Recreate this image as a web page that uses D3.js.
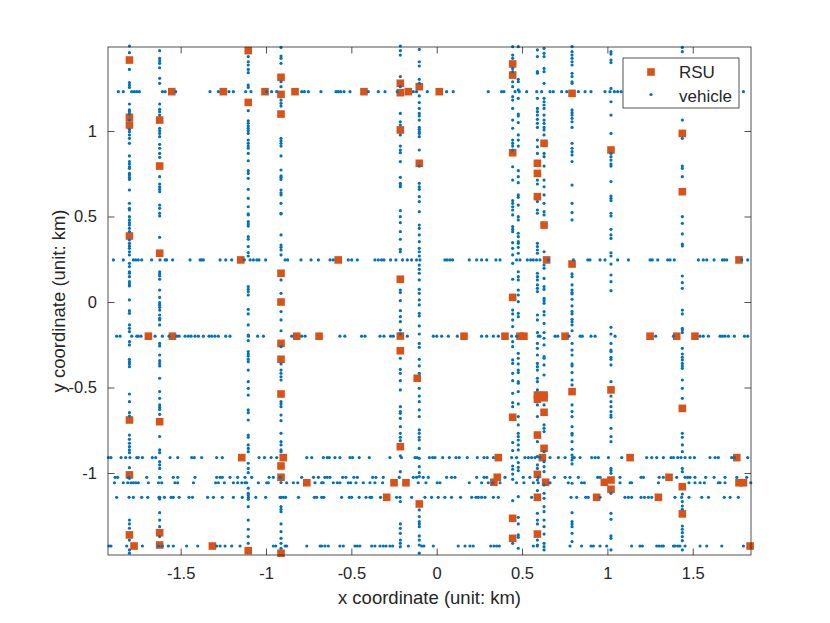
<!DOCTYPE html>
<html>
<head>
<meta charset="utf-8">
<script src="https://cdn.jsdelivr.net/npm/d3@7"></script>
<style>
  body { margin: 0; background: #fff; }
  text { font-family: "Liberation Sans", Arial, Helvetica, sans-serif; fill: #262626; }
</style>
</head>
<body>
<div id="chart"></div>
<script>
// RSU positions (km)
var rsuX = [-1.80, -1.80, -1.80, -1.80, -1.80, -1.80, -1.80, -1.773,
  -1.623, -1.623, -1.623, -1.623, -1.623, -1.623,
  -1.552, -1.250, -1.006, -0.830, -0.426, -0.166, 0.015,
  -1.104, -1.104, -1.104, -1.148,
  -0.912, -0.912, -0.912, -0.912, -0.912, -0.912, -0.912, -0.912, -0.899, -0.912, -0.912, -0.912,
  -1.689, -1.548, -0.820, -0.689, 0.160, 0.400, 0.488, 0.511, 0.752, 1.250, 1.406, 1.513,
  -0.577, 1.771,
  -0.213, -0.213, -0.213, -0.213, -0.213, -0.213, -0.213,
  -0.102, -0.102, -0.114, -0.102,
  -1.142, 0.361, 1.133, 1.758, 0.619,
  0.355, 1.361,
  0.335, -0.761, -0.250, -0.180, 1.771, 1.797, 0.982, 0.638,
  -0.293, 0.937, 1.299,
  -1.314, 1.836,
  0.445, 0.445, 0.445, 0.445, 0.445, 0.445, 0.445,
  0.590, 0.590, 0.590, 0.590, 0.590, 0.590, 0.590, 0.590, 0.590,
  0.629, 0.629, 0.644, 0.629, 0.629, 0.629, 0.629,
  0.793, 0.793, 0.793,
  1.021, 1.021, 1.021, 1.021,
  1.439, 1.439, 1.439, 1.439, 1.439];
var rsuY = [1.415, 1.080, 1.035, 0.386, -0.690, -1.011, -1.362, -1.427,
  1.064, 0.795, 0.285, -0.700, -1.349, -1.421,
  1.230, 1.230, 1.230, 1.230, 1.230, 1.230, 1.230,
  1.470, 1.167, -1.454, 0.246,
  1.314, 1.214, 1.099, 0.168, 0.000, -0.242, -0.335, -0.538, -0.910, -0.959, -1.025, -1.469,
  -0.200, -0.200, -0.200, -0.200, -0.200, -0.200, -0.200, -0.200, -0.200, -0.200, -0.200, -0.200,
  0.246, 0.246,
  1.279, 1.224, 1.006, 0.133, -0.199, -0.285, -0.846,
  1.259, 0.811, -0.446, -1.181,
  -0.910, -0.910, -0.910, -0.910, -0.910,
  -1.025, -1.025,
  -1.054, -1.057, -1.057, -1.057, -1.057, -1.057, -1.054, -1.054,
  -1.142, -1.142, -1.142,
  -1.427, -1.427,
  1.392, 1.327, 0.873, 0.027, -0.674, -1.265, -1.382,
  0.811, 0.752, 0.616, -0.544, -0.569, -0.778, -1.008, -1.142, -1.357,
  0.928, 0.450, 0.246, -0.544, -0.560, -0.645, -0.856,
  1.220, 0.222, -0.524,
  0.889, -0.514, -1.041, -1.095,
  0.986, 0.645, -0.622, -1.080, -1.239];

// vertical roads: x position of each road, then vehicle y positions on it
var vRoadX = [-1.80, -1.623, -1.104, -0.912, -0.213, -0.102, 0.445, 0.478, 0.590, 0.629, 0.793, 1.021, 1.439];
var roadA = [1.497, 1.458, 1.360, 1.283, 1.269, 1.255, 1.158, 1.123, 1.113, 1.099, 1.064, 1.010, 0.996, 0.977, 0.957, 0.928, 0.854, 0.821, 0.807, 0.791, 0.782, 0.752, 0.743, 0.729, 0.717, 0.655, 0.577, 0.548, 0.538, 0.499, 0.480, 0.464, 0.450, 0.431, 0.411, 0.363, 0.343, 0.328, 0.314, 0.294, 0.275, 0.226, 0.207, 0.177, 0.168, 0.148, 0.119, 0.105, 0.094, 0.012, -0.051, -0.066, -0.134, -0.154, -0.173, -0.232, -0.251, -0.335, -0.349, -0.362, -0.378, -0.538, -0.583, -0.647, -0.667, -0.778, -0.803, -0.826, -0.846, -0.865, -0.881, -0.969, -1.031, -1.275, -1.298, -1.323, -1.392, -1.450, -1.469];
var roadB = [1.470, 1.425, 1.411, 1.396, 1.370, 1.308, 1.279, 1.158, 1.127, 1.113, 1.093, 1.016, 1.002, 0.986, 0.967, 0.922, 0.899, 0.869, 0.846, 0.733, 0.690, 0.674, 0.659, 0.645, 0.567, 0.548, 0.519, 0.503, 0.378, 0.177, 0.164, 0.152, 0.133, 0.070, 0.027, -0.004, -0.017, -0.031, -0.047, -0.076, -0.095, -0.105, -0.134, -0.242, -0.257, -0.310, -0.343, -0.359, -0.374, -0.446, -0.524, -0.563, -0.602, -0.616, -0.628, -0.657, -0.787, -0.865, -0.881, -0.934, -0.953, -0.973, -1.025, -1.142, -1.152, -1.232, -1.275, -1.314, -1.372];
var roadC = [1.435, 1.405, 1.386, 1.360, 1.341, 1.269, 1.255, 1.119, 1.060, 1.045, 1.029, 1.016, 1.002, 0.986, 0.947, 0.928, 0.912, 0.899, 0.869, 0.826, 0.768, 0.752, 0.723, 0.659, 0.606, 0.557, 0.515, 0.509, 0.470, 0.456, 0.444, 0.382, 0.367, 0.324, 0.289, 0.269, 0.090, 0.074, 0.060, 0.041, -0.043, -0.070, -0.134, -0.193, -0.226, -0.290, -0.304, -0.316, -0.335, -0.349, -0.398, -0.466, -0.505, -0.544, -0.631, -0.647, -0.690, -0.778, -0.791, -0.836, -0.856, -0.875, -0.943, -0.973, -0.998, -1.089, -1.119, -1.128, -1.154, -1.197, -1.275, -1.329, -1.372, -1.411];
var roadD = [1.489, 1.438, 1.425, 1.396, 1.288, 1.259, 1.181, 1.162, 1.146, 0.957, 0.943, 0.928, 0.912, 0.854, 0.772, 0.737, 0.729, 0.717, 0.655, 0.639, 0.626, 0.577, 0.519, 0.515, 0.392, 0.333, 0.320, 0.304, 0.275, 0.129, 0.051, -0.056, -0.105, -0.168, -0.261, -0.362, -0.398, -0.417, -0.437, -0.456, -0.583, -0.596, -0.612, -0.661, -0.694, -0.768, -0.817, -0.836, -0.865, -0.875, -1.056, -1.142, -1.197, -1.212, -1.226, -1.298, -1.343, -1.382, -1.411, -1.440];
var roadE = [1.497, 1.470, 1.444, 1.318, 1.259, 1.103, 1.054, 1.035, 0.977, 0.912, 0.889, 0.873, 0.821, 0.729, 0.694, 0.684, 0.674, 0.534, 0.499, 0.464, 0.411, 0.367, 0.308, 0.294, 0.070, 0.055, 0.008, -0.051, -0.086, -0.115, -0.164, -0.187, -0.329, -0.394, -0.417, -0.460, -0.514, -0.612, -0.641, -0.651, -0.680, -0.729, -0.768, -0.791, -0.811, -0.900, -0.992, -1.167, -1.298, -1.323, -1.353, -1.392, -1.411, -1.431];
var roadF = [1.477, 1.405, 1.380, 1.302, 1.279, 1.205, 1.166, 1.132, 1.103, 1.088, 1.064, 1.021, 1.010, 0.996, 0.986, 0.967, 0.889, 0.795, 0.694, 0.674, 0.659, 0.616, 0.587, 0.528, 0.450, 0.431, 0.392, 0.353, 0.314, 0.294, 0.269, 0.216, 0.191, 0.168, 0.129, 0.074, 0.051, 0.012, -0.017, -0.066, -0.082, -0.140, -0.187, -0.242, -0.265, -0.335, -0.374, -0.417, -0.505, -0.550, -0.583, -0.631, -0.670, -0.748, -0.768, -0.791, -0.807, -0.856, -0.914, -0.963, -0.998, -1.021, -1.216, -1.255, -1.284, -1.298, -1.314, -1.368, -1.392, -1.421, -1.469];
var roadG = [1.493, 1.444, 1.425, 1.366, 1.347, 1.288, 1.259, 1.201, 1.181, 1.132, 1.064, 1.016, 0.947, 0.928, 0.912, 0.889, 0.791, 0.713, 0.593, 0.577, 0.557, 0.538, 0.509, 0.441, 0.425, 0.411, 0.347, 0.314, 0.275, 0.226, 0.133, -0.047, -0.070, -0.105, -0.144, -0.232, -0.261, -0.339, -0.359, -0.417, -0.460, -0.534, -0.589, -0.612, -0.822, -0.869, -0.959, -0.978, -1.006, -1.037, -1.162, -1.411];
var roadH = [1.493, 1.302, 1.288, 1.240, 1.191, 1.099, 1.088, 1.049, 0.977, 0.947, 0.912, 0.768, 0.733, 0.698, 0.626, 0.612, 0.567, 0.499, 0.480, 0.402, 0.382, 0.353, 0.343, 0.320, 0.285, 0.177, 0.148, 0.129, 0.070, 0.041, 0.002, -0.066, -0.086, -0.300, -0.329, -0.362, -0.398, -0.413, -0.466, -0.475, -0.524, -0.596, -0.670, -0.719, -0.768, -0.787, -0.807, -0.836, -0.865, -0.939, -0.967, -0.986, -1.138, -1.259, -1.298, -1.362, -1.376, -1.440];
var roadI = [1.474, 1.435, 1.347, 1.338, 1.191, 1.132, 1.113, 1.093, 1.068, 1.045, 1.021, 0.947, 0.908, 0.869, 0.713, 0.690, 0.587, 0.538, 0.519, 0.343, 0.324, 0.304, 0.285, 0.168, 0.148, 0.129, 0.100, 0.080, 0.061, -0.076, -0.105, -0.179, -0.242, -0.271, -0.310, -0.359, -0.378, -0.398, -0.446, -0.466, -0.514, -0.602, -0.670, -0.817, -0.904, -0.953, -0.973, -1.041, -1.103, -1.236, -1.275, -1.298, -1.392, -1.421];
var roadJ = [1.483, 1.454, 1.435, 1.366, 1.347, 1.279, 1.191, 1.171, 1.152, 1.132, 1.093, 1.064, 1.045, 1.021, 1.006, 0.977, 0.869, 0.850, 0.795, 0.713, 0.674, 0.626, 0.577, 0.528, 0.509, 0.294, 0.216, 0.197, 0.138, 0.090, 0.074, 0.021, 0.008, -0.008, -0.056, -0.076, -0.125, -0.179, -0.212, -0.251, -0.320, -0.329, -0.368, -0.427, -0.602, -0.719, -0.739, -0.758, -0.875, -0.934, -0.963, -0.992, -1.070, -1.119, -1.148, -1.197, -1.226, -1.275, -1.314, -1.357, -1.411, -1.431, -1.450];
var roadK = [1.493, 1.464, 1.444, 1.425, 1.405, 1.386, 1.337, 1.318, 1.288, 1.279, 1.123, 1.107, 1.093, 1.074, 1.054, 1.021, 0.928, 0.899, 0.879, 0.860, 0.821, 0.684, 0.577, 0.523, 0.480, 0.164, 0.148, 0.100, 0.070, 0.055, 0.047, 0.016, -0.023, -0.056, -0.070, -0.101, -0.115, -0.134, -0.168, -0.242, -0.281, -0.310, -0.362, -0.374, -0.413, -0.456, -0.485, -0.602, -0.641, -0.670, -0.729, -0.768, -0.778, -0.817, -0.861, -0.895, -0.924, -0.947, -1.060, -1.232, -1.284, -1.298, -1.314, -1.353, -1.401];
var roadL = [1.464, 1.450, 1.415, 1.400, 1.249, 1.171, 1.093, 0.986, 0.869, 0.850, 0.830, 0.807, 0.795, 0.704, 0.620, 0.606, 0.593, 0.519, 0.503, 0.425, 0.392, 0.372, 0.288, 0.269, 0.222, 0.158, 0.119, 0.066, -0.148, -0.187, -0.242, -0.281, -0.290, -0.323, -0.335, -0.368, -0.466, -0.550, -0.583, -0.612, -0.641, -0.661, -0.674, -0.739, -0.787, -0.817, -0.973, -0.986, -1.002, -1.119, -1.236, -1.271, -1.368, -1.382, -1.450];
var roadM = [1.489, 1.464, 1.064, 0.957, 0.795, 0.782, 0.733, 0.499, 0.460, 0.398, 0.339, 0.328, 0.152, 0.113, 0.080, -0.047, -0.070, -0.154, -0.164, -0.179, -0.271, -0.304, -0.323, -0.339, -0.359, -0.374, -0.388, -0.456, -0.505, -0.563, -0.768, -0.791, -0.836, -0.875, -0.973, -0.992, -1.123, -1.167, -1.193, -1.212, -1.310, -1.329, -1.349, -1.372, -1.396, -1.450];

// horizontal roads: y position of each road, then vehicle x positions on it
var hRoadY = [1.230, 0.246, -0.200, -0.910, -1.025, -1.057, -1.142, -1.427];
var road1 = [-1.865, -1.836, -1.787, -1.771, -1.757, -1.742, -1.607, -1.591, -1.529, -1.328, -1.279, -1.217, -1.191, -1.119, -1.088, -0.996, -0.967, -0.937, -0.791, -0.775, -0.752, -0.678, -0.590, -0.577, -0.563, -0.543, -0.508, -0.401, -0.342, -0.303, -0.231, -0.137, -0.118, -0.055, 0.058, 0.097, 0.302, 0.380, 0.394, 0.459, 0.484, 0.527, 0.586, 0.615, 0.664, 0.683, 0.732, 0.762, 0.830, 0.869, 0.904, 0.986, 1.015, 1.041, 1.060, 1.080, 1.797];
var road2 = [-1.894, -1.836, -1.777, -1.763, -1.748, -1.728, -1.670, -1.621, -1.591, -1.582, -1.547, -1.445, -1.386, -1.377, -1.367, -1.269, -1.236, -1.201, -1.127, -1.093, -1.074, -1.054, -1.041, -1.002, -0.888, -0.873, -0.795, -0.736, -0.693, -0.625, -0.606, -0.518, -0.498, -0.465, -0.362, -0.342, -0.323, -0.309, -0.270, -0.239, -0.200, -0.172, -0.147, -0.118, -0.098, 0.048, 0.062, 0.078, 0.093, 0.191, 0.234, 0.263, 0.293, 0.347, 0.371, 0.468, 0.488, 0.531, 0.550, 0.566, 0.585, 0.605, 0.654, 0.801, 0.885, 0.898, 0.957, 0.986, 1.060, 1.123, 1.250, 1.263, 1.295, 1.353, 1.367, 1.392, 1.533, 1.562, 1.582, 1.625, 1.674, 1.685, 1.699, 1.787, 1.822];
var road3 = [-1.875, -1.855, -1.787, -1.757, -1.748, -1.732, -1.650, -1.607, -1.568, -1.523, -1.509, -1.474, -1.455, -1.439, -1.416, -1.396, -1.367, -1.334, -1.318, -1.299, -1.279, -1.236, -1.211, -1.103, -1.049, -1.015, -0.849, -0.791, -0.771, -0.567, -0.538, -0.440, -0.420, -0.332, -0.309, -0.270, -0.254, -0.172, -0.020, 0.000, 0.029, 0.068, 0.121, 0.263, 0.293, 0.332, 0.361, 0.439, 0.468, 0.595, 0.605, 0.693, 0.709, 0.775, 0.840, 0.853, 0.904, 0.928, 1.045, 1.283, 1.387, 1.543, 1.562, 1.592, 1.660, 1.674, 1.689, 1.709, 1.744, 1.803, 1.822];
var road4 = [-1.923, -1.908, -1.849, -1.822, -1.797, -1.757, -1.748, -1.724, -1.666, -1.646, -1.562, -1.517, -1.435, -1.420, -1.377, -1.289, -1.256, -1.041, -1.009, -0.970, -0.937, -0.761, -0.732, -0.664, -0.641, -0.629, -0.596, -0.567, -0.508, -0.493, -0.454, -0.395, -0.274, -0.206, -0.127, -0.114, -0.043, -0.024, -0.010, 0.035, 0.074, 0.113, 0.132, 0.179, 0.238, 0.277, 0.296, 0.332, 0.439, 0.468, 0.517, 0.537, 0.556, 0.576, 0.605, 0.664, 0.713, 0.752, 0.795, 0.806, 0.840, 0.908, 0.928, 0.947, 1.006, 1.084, 1.230, 1.260, 1.289, 1.328, 1.373, 1.387, 1.412, 1.431, 1.455, 1.484, 1.510, 1.601, 1.631, 1.650, 1.728, 1.744, 1.822];
var road5 = [-1.884, -1.869, -1.806, -1.699, -1.621, -1.543, -1.517, -1.416, -1.289, -1.269, -1.256, -1.211, -1.166, -1.123, -1.084, -0.982, -0.957, -0.918, -0.791, -0.722, -0.693, -0.655, -0.641, -0.625, -0.551, -0.532, -0.485, -0.465, -0.375, -0.356, -0.313, -0.219, -0.137, -0.118, -0.079, -0.049, 0.058, 0.087, 0.107, 0.234, 0.277, 0.293, 0.400, 0.507, 0.546, 0.595, 0.689, 0.752, 0.781, 0.830, 0.943, 0.957, 1.074, 1.197, 1.211, 1.303, 1.328, 1.406, 1.455, 1.470, 1.484, 1.513, 1.576, 1.625, 1.689, 1.758, 1.816];
var road6 = [-1.888, -1.836, -1.810, -1.791, -1.777, -1.763, -1.748, -1.689, -1.630, -1.611, -1.533, -1.517, -1.425, -1.295, -1.279, -1.244, -1.191, -1.166, -1.142, -1.123, -1.113, -1.045, -0.996, -0.986, -0.879, -0.840, -0.814, -0.713, -0.674, -0.665, -0.606, -0.582, -0.567, -0.518, -0.504, -0.473, -0.430, -0.391, -0.362, -0.317, -0.108, -0.063, 0.003, 0.019, 0.191, 0.263, 0.302, 0.328, 0.371, 0.468, 0.511, 0.566, 0.595, 0.664, 0.771, 0.849, 0.865, 1.074, 1.133, 1.142, 1.299, 1.478, 1.513, 1.543, 1.568, 1.650, 1.660, 1.689, 1.840];
var road7 = [-1.875, -1.802, -1.777, -1.728, -1.693, -1.627, -1.595, -1.556, -1.543, -1.509, -1.451, -1.431, -1.342, -1.308, -1.256, -1.191, -1.139, -1.103, -1.060, -1.002, -0.918, -0.898, -0.885, -0.810, -0.717, -0.703, -0.674, -0.661, -0.557, -0.512, -0.498, -0.454, -0.414, -0.391, -0.381, -0.329, -0.235, -0.215, -0.147, -0.069, -0.030, 0.009, 0.048, 0.087, 0.140, 0.205, 0.230, 0.244, 0.263, 0.283, 0.332, 0.361, 0.556, 0.787, 0.820, 0.873, 0.888, 0.957, 1.103, 1.123, 1.142, 1.197, 1.217, 1.240, 1.260, 1.396, 1.435, 1.478, 1.553, 1.592, 1.685, 1.719, 1.767];
var road8 = [-1.920, -1.908, -1.816, -1.724, -1.630, -1.607, -1.572, -1.543, -1.465, -1.400, -1.289, -1.269, -1.240, -1.201, -1.152, -0.957, -0.943, -0.888, -0.879, -0.761, -0.683, -0.674, -0.655, -0.635, -0.567, -0.547, -0.479, -0.465, -0.450, -0.381, -0.362, -0.332, -0.313, -0.297, -0.274, -0.258, -0.166, -0.088, -0.075, -0.020, 0.126, 0.166, 0.195, 0.214, 0.316, 0.335, 0.351, 0.367, 0.566, 0.589, 0.781, 0.849, 0.904, 0.918, 0.957, 0.996, 1.142, 1.191, 1.205, 1.289, 1.303, 1.318, 1.328, 1.387, 1.396, 1.412, 1.425, 1.455, 1.543, 1.582, 1.670, 1.797];

var xTicks = [-1.5, -1, -0.5, 0, 0.5, 1, 1.5];
var yTicks = [-1, -0.5, 0, 0.5, 1];

// build point lists
var vRoads = [roadA, roadB, roadC, roadD, roadE, roadF, roadG, roadH, roadI, roadJ, roadK, roadL, roadM];
var hRoads = [road1, road2, road3, road4, road5, road6, road7, road8];
var vehicles = [];
vRoads.forEach(function(ys, i) {
  ys.forEach(function(y) { vehicles.push({x: vRoadX[i], y: y}); });
});
hRoads.forEach(function(xs, i) {
  xs.forEach(function(x) { vehicles.push({x: x, y: hRoadY[i]}); });
});
var rsus = rsuX.map(function(x, i) { return {x: x, y: rsuY[i]}; });

var W = 830, H = 623;
var margin = {top: 47, right: 79, bottom: 68, left: 108},
    width = W - margin.left - margin.right,
    height = H - margin.top - margin.bottom;

var svg = d3.select("#chart")
  .append("svg")
    .attr("width", W)
    .attr("height", H)
    .style("background", "#fff");

var g = svg.append("g")
    .attr("transform", "translate(" + margin.left + "," + margin.top + ")");

var x = d3.scaleLinear()
  .domain([-1.9256, 1.8413])
  .range([0, width]);
var y = d3.scaleLinear()
  .domain([-1.4795, 1.4912])
  .range([height, 0]);

var fmt = function(d) { return String(d); };
var tickLen = 6.5;
var sq = 7.6, dotR = 1.6;

// axes, ticks pointing inwards on all four sides
var axB = g.append("g").attr("transform", "translate(0," + height + ")")
  .call(d3.axisBottom(x).tickValues(xTicks).tickFormat(fmt).tickSizeInner(-tickLen).tickSizeOuter(0).tickPadding(12));
var axT = g.append("g")
  .call(d3.axisTop(x).tickValues(xTicks).tickFormat("").tickSizeInner(-tickLen).tickSizeOuter(0));
var axL = g.append("g")
  .call(d3.axisLeft(y).tickValues(yTicks).tickFormat(fmt).tickSizeInner(-tickLen).tickSizeOuter(0).tickPadding(11));
var axR = g.append("g").attr("transform", "translate(" + width + ",0)")
  .call(d3.axisRight(y).tickValues(yTicks).tickFormat("").tickSizeInner(-tickLen).tickSizeOuter(0));

[axB, axT, axL, axR].forEach(function(a) {
  a.select(".domain").remove();
  a.selectAll(".tick line").attr("stroke", "#262626").attr("stroke-width", 0.8);
  a.selectAll(".tick text")
    .style("font-family", '"Liberation Sans", Arial, sans-serif')
    .style("font-size", "16.5px")
    .attr("fill", "#262626");
});

// RSU markers
g.append("g")
  .selectAll("rect")
  .data(rsus)
  .enter()
  .append("rect")
    .attr("x", function(d) { return x(d.x) - sq / 2; })
    .attr("y", function(d) { return y(d.y) - sq / 2; })
    .attr("width", sq)
    .attr("height", sq)
    .attr("fill", "#D95319");

// vehicles
g.append("g")
  .selectAll("circle")
  .data(vehicles)
  .enter()
  .append("circle")
    .attr("cx", function(d) { return x(d.x); })
    .attr("cy", function(d) { return y(d.y); })
    .attr("r", dotR)
    .attr("fill", "#0072BD");

// box
g.append("rect")
  .attr("width", width)
  .attr("height", height)
  .attr("fill", "none")
  .attr("stroke", "#262626")
  .attr("stroke-width", 0.8);

// axis labels
svg.append("text")
  .attr("x", margin.left + width / 2)
  .attr("y", 604)
  .attr("text-anchor", "middle")
  .style("font-size", "18.5px")
  .text("x coordinate (unit: km)");
svg.append("text")
  .attr("transform", "translate(65," + (margin.top + height / 2) + ") rotate(-90)")
  .attr("text-anchor", "middle")
  .style("font-size", "18.5px")
  .text("y coordinate (unit: km)");

// legend
var lg = svg.append("g").attr("transform", "translate(623,58)");
lg.append("rect")
  .attr("width", 116)
  .attr("height", 50)
  .attr("fill", "#fff")
  .attr("stroke", "#262626")
  .attr("stroke-width", 0.8);
lg.append("rect")
  .attr("x", 28 - sq / 2).attr("y", 14 - sq / 2)
  .attr("width", sq).attr("height", sq)
  .attr("fill", "#D95319");
lg.append("circle")
  .attr("cx", 28).attr("cy", 36.5)
  .attr("r", dotR)
  .attr("fill", "#0072BD");
lg.append("text")
  .attr("x", 56).attr("y", 20.3)
  .style("font-size", "17px")
  .text("RSU");
lg.append("text")
  .attr("x", 56).attr("y", 43.7)
  .style("font-size", "17px")
  .text("vehicle");
</script>
</body>
</html>
